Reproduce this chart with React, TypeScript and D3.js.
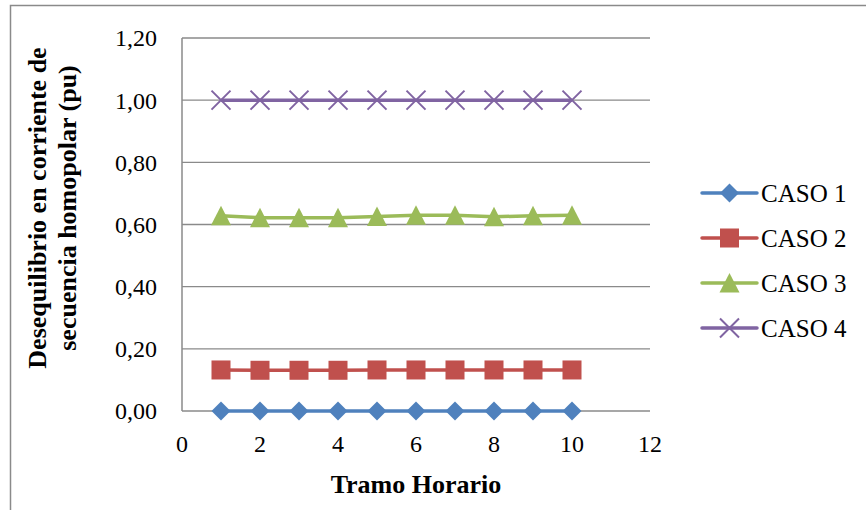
import React from "react";
import * as d3 from "d3";

const xValues = [1, 2, 3, 4, 5, 6, 7, 8, 9, 10];
const caso1 = [0, 0, 0, 0, 0, 0, 0, 0, 0, 0];
const caso2 = [0.132, 0.131, 0.131, 0.131, 0.132, 0.132, 0.132, 0.132, 0.132, 0.132];
const caso3 = [0.628, 0.622, 0.622, 0.622, 0.626, 0.63, 0.63, 0.625, 0.628, 0.63];
const caso4 = [1.0, 1.0, 1.0, 1.0, 1.0, 1.0, 1.0, 1.0, 1.0, 1.0];
const seriesNames = ["CASO 1", "CASO 2", "CASO 3", "CASO 4"];
const seriesColors = ["#4F81BD", "#C0504D", "#9BBB59", "#8064A2"];
const markerTypes = ["diamond", "square", "triangle", "x"];
const yTicks = [0, 0.2, 0.4, 0.6, 0.8, 1.0, 1.2];
const xTicks = [0, 2, 4, 6, 8, 10, 12];

const W = 866;
const H = 510;
const plot = { left: 182, right: 650, top: 38, bottom: 411 };
const FONT = "'Liberation Serif', 'Times New Roman', serif";

function Marker({ type, x, y, color }: { type: string; x: number; y: number; color: string }) {
  if (type === "diamond") {
    const s = 9.5;
    return <path d={`M${x},${y - s}L${x + s},${y}L${x},${y + s}L${x - s},${y}Z`} fill={color} />;
  }
  if (type === "square") {
    const s = 9.5;
    return <rect x={x - s} y={y - s} width={2 * s} height={2 * s} fill={color} />;
  }
  if (type === "triangle") {
    const s = 10;
    return <path d={`M${x},${y - s}L${x + s},${y + s * 0.95}L${x - s},${y + s * 0.95}Z`} fill={color} />;
  }
  const s = 9.5;
  return (
    <path
      d={`M${x - s},${y - s}L${x + s},${y + s}M${x - s},${y + s}L${x + s},${y - s}`}
      stroke={color}
      strokeWidth={2}
      fill="none"
    />
  );
}

export default function App() {
  const x = d3.scaleLinear().domain([0, 12]).range([plot.left, plot.right]);
  const y = d3.scaleLinear().domain([0, 1.2]).range([plot.bottom, plot.top]);
  const all = [caso1, caso2, caso3, caso4];
  const line = d3
    .line<number>()
    .x((_, i) => x(xValues[i]))
    .y((d) => y(d));
  const fmt = (v: number) => v.toFixed(2).replace(".", ",");

  return (
    <svg
      width={W}
      height={H}
      style={{ position: "absolute", left: 0, top: 0, background: "#fff" }}
      fontFamily={FONT}
    >
      <rect x={10.5} y={5.5} width={W + 20} height={H + 20} fill="#fff" stroke="#8a8a8a" strokeWidth={1.5} />
      {yTicks.map((t) => (
        <g key={t}>
          {t > 0 && (
            <line x1={plot.left} x2={plot.right} y1={y(t)} y2={y(t)} stroke="#8a8a8a" strokeWidth={1.3} />
          )}
          <text x={157} y={y(t)} dy="0.35em" textAnchor="end" fontSize={24} fill="#000">
            {fmt(t)}
          </text>
        </g>
      ))}
      <line x1={plot.left} x2={plot.left} y1={plot.top} y2={plot.bottom} stroke="#8a8a8a" strokeWidth={1.5} />
      <line x1={plot.left} x2={plot.right} y1={plot.bottom} y2={plot.bottom} stroke="#8a8a8a" strokeWidth={1.5} />
      {xTicks.map((t) => (
        <text key={t} x={x(t)} y={452} textAnchor="middle" fontSize={24} fill="#000">
          {t}
        </text>
      ))}
      {all.map((s, si) => (
        <g key={si}>
          <path d={line(s) || ""} fill="none" stroke={seriesColors[si]} strokeWidth={3.5} strokeLinejoin="round" />
          {s.map((v, i) => (
            <Marker key={i} type={markerTypes[si]} x={x(xValues[i])} y={y(v)} color={seriesColors[si]} />
          ))}
        </g>
      ))}
      <text x={(plot.left + plot.right) / 2} y={493} textAnchor="middle" fontSize={26} fontWeight="bold" fill="#000">
        Tramo Horario
      </text>
      <g transform={`translate(0,208) rotate(-90)`}>
        <text x={0} y={46} textAnchor="middle" fontSize={26} fontWeight="bold" fill="#000">
          Desequilibrio en corriente de
        </text>
        <text x={0} y={76} textAnchor="middle" fontSize={26} fontWeight="bold" fill="#000">
          secuencia homopolar (pu)
        </text>
      </g>
      {seriesNames.map((n, i) => {
        const cy = 193 + i * 45;
        return (
          <g key={n}>
            <line x1={702} x2={757} y1={cy} y2={cy} stroke={seriesColors[i]} strokeWidth={3.5} strokeLinecap="round" />
            <Marker type={markerTypes[i]} x={729.5} y={cy} color={seriesColors[i]} />
            <text x={761} y={cy} dy="0.35em" fontSize={25} fill="#000">
              {n}
            </text>
          </g>
        );
      })}
    </svg>
  );
}
